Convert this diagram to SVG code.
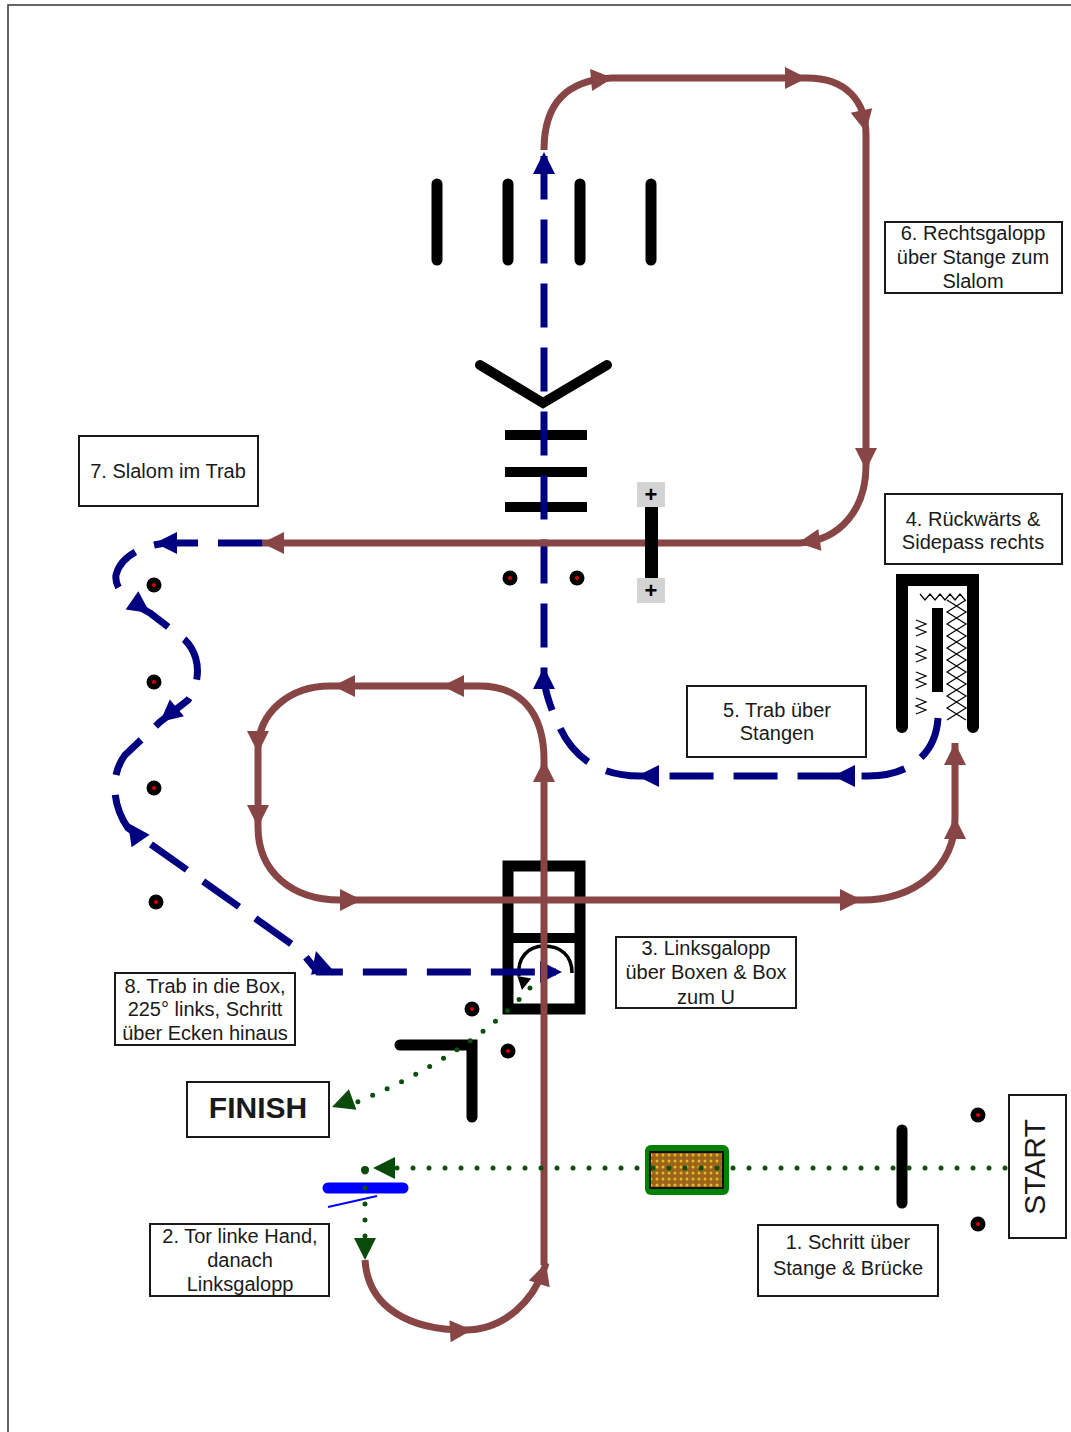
<svg xmlns="http://www.w3.org/2000/svg" width="1071" height="1432" viewBox="0 0 1071 1432">
<defs>
<style>
.br{fill:none;stroke:#874545;stroke-width:7}
.bl{fill:none;stroke:#000080;stroke-width:7;stroke-dasharray:44 20}
.gd{fill:none;stroke:#0b4f0b;stroke-width:5;stroke-linecap:round;stroke-dasharray:0 16}
.obs{stroke:#000;stroke-linecap:round;fill:none}
.lbl{fill:#fff;stroke:#1a1a1a;stroke-width:2}
.t{font-family:"Liberation Sans",Arial,sans-serif;font-size:20px;fill:#1a1a1a;text-anchor:middle}
.ab{fill:#874545}
.an{fill:#000080}
.ag{fill:#0a4a0a}
</style>
<path id="ah" d="M0,0 L-22,-11 L-22,11 Z"/>
<path id="ahs" d="M0,0 L-13,-7 L-13,7 Z"/>
<g id="cone"><circle r="7.5" fill="#000"/><circle r="2" fill="#d00"/></g>
<pattern id="brp" width="6" height="6" patternUnits="userSpaceOnUse"><rect width="6" height="6" fill="#9a6518"/><circle cx="3" cy="3" r="1.5" fill="#e8b830"/></pattern>
</defs>
<rect x="0" y="0" width="1071" height="1432" fill="#fff"/>
<rect x="8" y="5" width="1100" height="1500" fill="none" stroke="#333" stroke-width="1.5"/>

<!-- obstacles -->
<g id="poles-top" class="obs" stroke-width="11">
<line x1="437" y1="184" x2="437" y2="260"/>
<line x1="508" y1="184" x2="508" y2="260"/>
<line x1="580" y1="184" x2="580" y2="260"/>
<line x1="651" y1="184" x2="651" y2="260"/>
</g>
<g id="v-poles" class="obs" stroke-width="10"><polyline points="480,365 543,403 607,365"/></g>
<g id="h-poles" stroke="#000" stroke-width="10" fill="none">
<line x1="505" y1="435" x2="587" y2="435"/>
<line x1="505" y1="472" x2="587" y2="472"/>
<line x1="505" y1="507" x2="587" y2="507"/>
</g>
<g id="cones-mid"><use href="#cone" x="510" y="578"/><use href="#cone" x="577" y="578"/></g>
<g id="cones-slalom"><use href="#cone" x="154" y="585"/><use href="#cone" x="154" y="682"/><use href="#cone" x="154" y="788"/><use href="#cone" x="156" y="902"/></g>
<g id="box3">
<rect x="508" y="866" width="72" height="143" fill="none" stroke="#000" stroke-width="11"/>
<line x1="508" y1="938" x2="580" y2="938" stroke="#000" stroke-width="10"/>
<path d="M572,973 C572,955 560,946 544,946 C528,946 517,958 519,976" fill="none" stroke="#000" stroke-width="3.5"/>
<use href="#ahs" fill="#000" transform="translate(522,990) rotate(100)"/>
</g>
<g id="cones-finish"><use href="#cone" x="472" y="1009"/><use href="#cone" x="508" y="1051"/></g>
<g id="l-poles" class="obs" stroke-width="11"><polyline points="400,1045 472,1045 472,1117" stroke-linejoin="miter"/></g>
<g id="cones-start"><use href="#cone" x="978" y="1115"/><use href="#cone" x="978" y="1224"/></g>
<g id="pole-start" class="obs" stroke-width="11"><line x1="902" y1="1130" x2="902" y2="1203"/></g>
<g id="bridge">
<rect x="645" y="1145" width="84" height="50" rx="6" fill="#008000"/>
<rect x="650" y="1152" width="73" height="36" fill="url(#brp)" stroke="#111" stroke-width="2"/>
</g>
<g id="gate">
<line x1="328" y1="1188" x2="403" y2="1188" stroke="#0000ff" stroke-width="11" stroke-linecap="round"/>
<line x1="328" y1="1207" x2="377" y2="1196" stroke="#0000ff" stroke-width="2"/>
</g>

<!-- connectors -->
<g id="connectors">
<path class="bl" d="M938,718 C936,752 912,776 868,776 H640 C600,776 574,758 560,728 C552,712 546,695 544,680 V156"/>
<path class="bl" d="M262,543 H168 C140,545 120,558 116,575 C114,590 130,602 150,613 L185,640 C200,655 202,680 188,700 L160,722 L125,755 C110,775 112,805 128,828 L300,950 L318,972 H556"/>
<use href="#ah" class="an" transform="translate(544,152) rotate(-90)"/>
<use href="#ah" class="an" transform="translate(544,667) rotate(-90)"/>
<use href="#ah" class="an" transform="translate(637,776) rotate(180)"/>
<use href="#ah" class="an" transform="translate(833,776) rotate(180)"/>
<use href="#ah" class="an" transform="translate(155,543) rotate(180)"/>
<use href="#ah" class="an" transform="translate(150,613) rotate(35)"/>
<use href="#ah" class="an" transform="translate(160,722) rotate(140)"/>
<use href="#ah" class="an" transform="translate(128,823) rotate(-125)"/>
<use href="#ah" class="an" transform="translate(316,951) rotate(-105)"/>
<use href="#ah" class="an" transform="translate(562,972)"/>

<path class="br" d="M544,150 C544,105 565,80 612,78 H807 C845,78 866,100 866,135 V465 C866,510 840,540 800,543 H262"/>
<path class="br" d="M544,1265 V760 C544,712 520,686 480,686 H330 C290,686 258,712 258,750 V827 C258,872 292,900 340,900 H862 C912,900 955,870 955,818 V743"/>
<path class="br" d="M365,1260 C368,1308 410,1330 465,1330 C505,1330 535,1300 546,1263"/>
<use href="#ah" class="ab" transform="translate(613,78) rotate(-5)"/>
<use href="#ah" class="ab" transform="translate(807,78)"/>
<use href="#ah" class="ab" transform="translate(866,132) rotate(78)"/>
<use href="#ah" class="ab" transform="translate(866,470) rotate(90)"/>
<use href="#ah" class="ab" transform="translate(798,543) rotate(172)"/>
<use href="#ah" class="ab" transform="translate(262,543) rotate(180)"/>
<use href="#ah" class="ab" transform="translate(544,760) rotate(-90)"/>
<use href="#ah" class="ab" transform="translate(442,686) rotate(180)"/>
<use href="#ah" class="ab" transform="translate(333,686) rotate(180)"/>
<use href="#ah" class="ab" transform="translate(258,753) rotate(90)"/>
<use href="#ah" class="ab" transform="translate(258,827) rotate(90)"/>
<use href="#ah" class="ab" transform="translate(362,900)"/>
<use href="#ah" class="ab" transform="translate(862,900)"/>
<use href="#ah" class="ab" transform="translate(955,817) rotate(-90)"/>
<use href="#ah" class="ab" transform="translate(955,743) rotate(-90)"/>
<use href="#ah" class="ab" transform="translate(472,1330) rotate(-3)"/>
<use href="#ah" class="ab" transform="translate(546,1263) rotate(-72)"/>

<path class="gd" d="M1005,1168 H380"/>
<path class="gd" d="M365,1172 V1240"/>
<path class="gd" d="M530,988 Q470,1055 355,1103"/>
<circle cx="365" cy="1170" r="4" fill="#0a4a0a"/>
<use href="#ah" class="ag" transform="translate(373,1168) rotate(180)"/>
<use href="#ah" class="ag" transform="translate(365,1260) rotate(90)"/>
<use href="#ah" class="ag" transform="translate(332,1107) rotate(160)"/>
</g>

<g id="bar-plus">
<rect x="645" y="505" width="13" height="75" fill="#000"/>
<rect x="637" y="482" width="28" height="25" fill="#d3d3d3"/>
<rect x="637" y="578" width="28" height="25" fill="#d3d3d3"/>
<text x="651" y="502" font-family="Liberation Sans, Arial, sans-serif" font-size="22" font-weight="bold" text-anchor="middle" fill="#000">+</text>
<text x="651" y="598" font-family="Liberation Sans, Arial, sans-serif" font-size="22" font-weight="bold" text-anchor="middle" fill="#000">+</text>
</g>
<g id="box4">
<polyline points="902,727 902,580 973,580 973,727" fill="none" stroke="#000" stroke-width="12" stroke-linecap="round"/>
<rect x="932" y="608" width="11" height="84" fill="#000"/>
<g fill="none" stroke="#000" stroke-width="1.2">
<polyline points="920,594 925,600 930,594 935,600 940,594 945,600 950,594 955,600 960,594 965,600"/>
<polyline points="916,620 926,624 916,628 926,632 916,636"/>
<polyline points="916,646 926,650 916,654 926,658 916,662"/>
<polyline points="916,672 926,676 916,680 926,684 916,688"/>
<polyline points="916,698 926,702 916,706 926,710 916,714"/>
<polyline points="947,600 966,612 947,624 966,636 947,648 966,660 947,672 966,684 947,696 966,708 947,720"/>
<polyline points="966,600 947,612 966,624 947,636 966,648 947,660 966,672 947,684 966,696 947,708 966,720"/>
</g>
</g>

<!-- labels -->
<g id="label6"><rect class="lbl" x="885" y="222" width="177" height="71"/>
<text class="t" x="973" y="240">6. Rechtsgalopp</text><text class="t" x="973" y="264">über Stange zum</text><text class="t" x="973" y="288">Slalom</text></g>
<g id="label7"><rect class="lbl" x="79" y="436" width="179" height="70"/>
<text class="t" x="168" y="478">7. Slalom im Trab</text></g>
<g id="label4"><rect class="lbl" x="885" y="494" width="177" height="70"/>
<text class="t" x="973" y="526">4. Rückwärts &amp;</text><text class="t" x="973" y="549">Sidepass rechts</text></g>
<g id="label5"><rect class="lbl" x="687" y="686" width="179" height="71"/>
<text class="t" x="777" y="717">5. Trab über</text><text class="t" x="777" y="740">Stangen</text></g>
<g id="label3"><rect class="lbl" x="616" y="937" width="180" height="71"/>
<text class="t" x="706" y="955">3. Linksgalopp</text><text class="t" x="706" y="979">über Boxen &amp; Box</text><text class="t" x="706" y="1004">zum U</text></g>
<g id="label8"><rect class="lbl" x="115" y="973" width="180" height="72"/>
<text class="t" x="205" y="993">8. Trab in die Box,</text><text class="t" x="205" y="1016">225° links, Schritt</text><text class="t" x="205" y="1040">über Ecken hinaus</text></g>
<g id="finish"><rect class="lbl" x="187" y="1082" width="142" height="55"/>
<text class="t" x="258" y="1118" style="font-size:30px;font-weight:bold">FINISH</text></g>
<g id="label2"><rect class="lbl" x="150" y="1224" width="179" height="72"/>
<text class="t" x="240" y="1243">2. Tor linke Hand,</text><text class="t" x="240" y="1267">danach</text><text class="t" x="240" y="1291">Linksgalopp</text></g>
<g id="label1"><rect class="lbl" x="758" y="1225" width="180" height="71"/>
<text class="t" x="848" y="1249">1. Schritt über</text><text class="t" x="848" y="1275">Stange &amp; Brücke</text></g>
<g id="start"><rect class="lbl" x="1009" y="1095" width="57" height="143"/>
<text class="t" transform="translate(1045,1167) rotate(-90)" style="font-size:30px">START</text></g>
</svg>
